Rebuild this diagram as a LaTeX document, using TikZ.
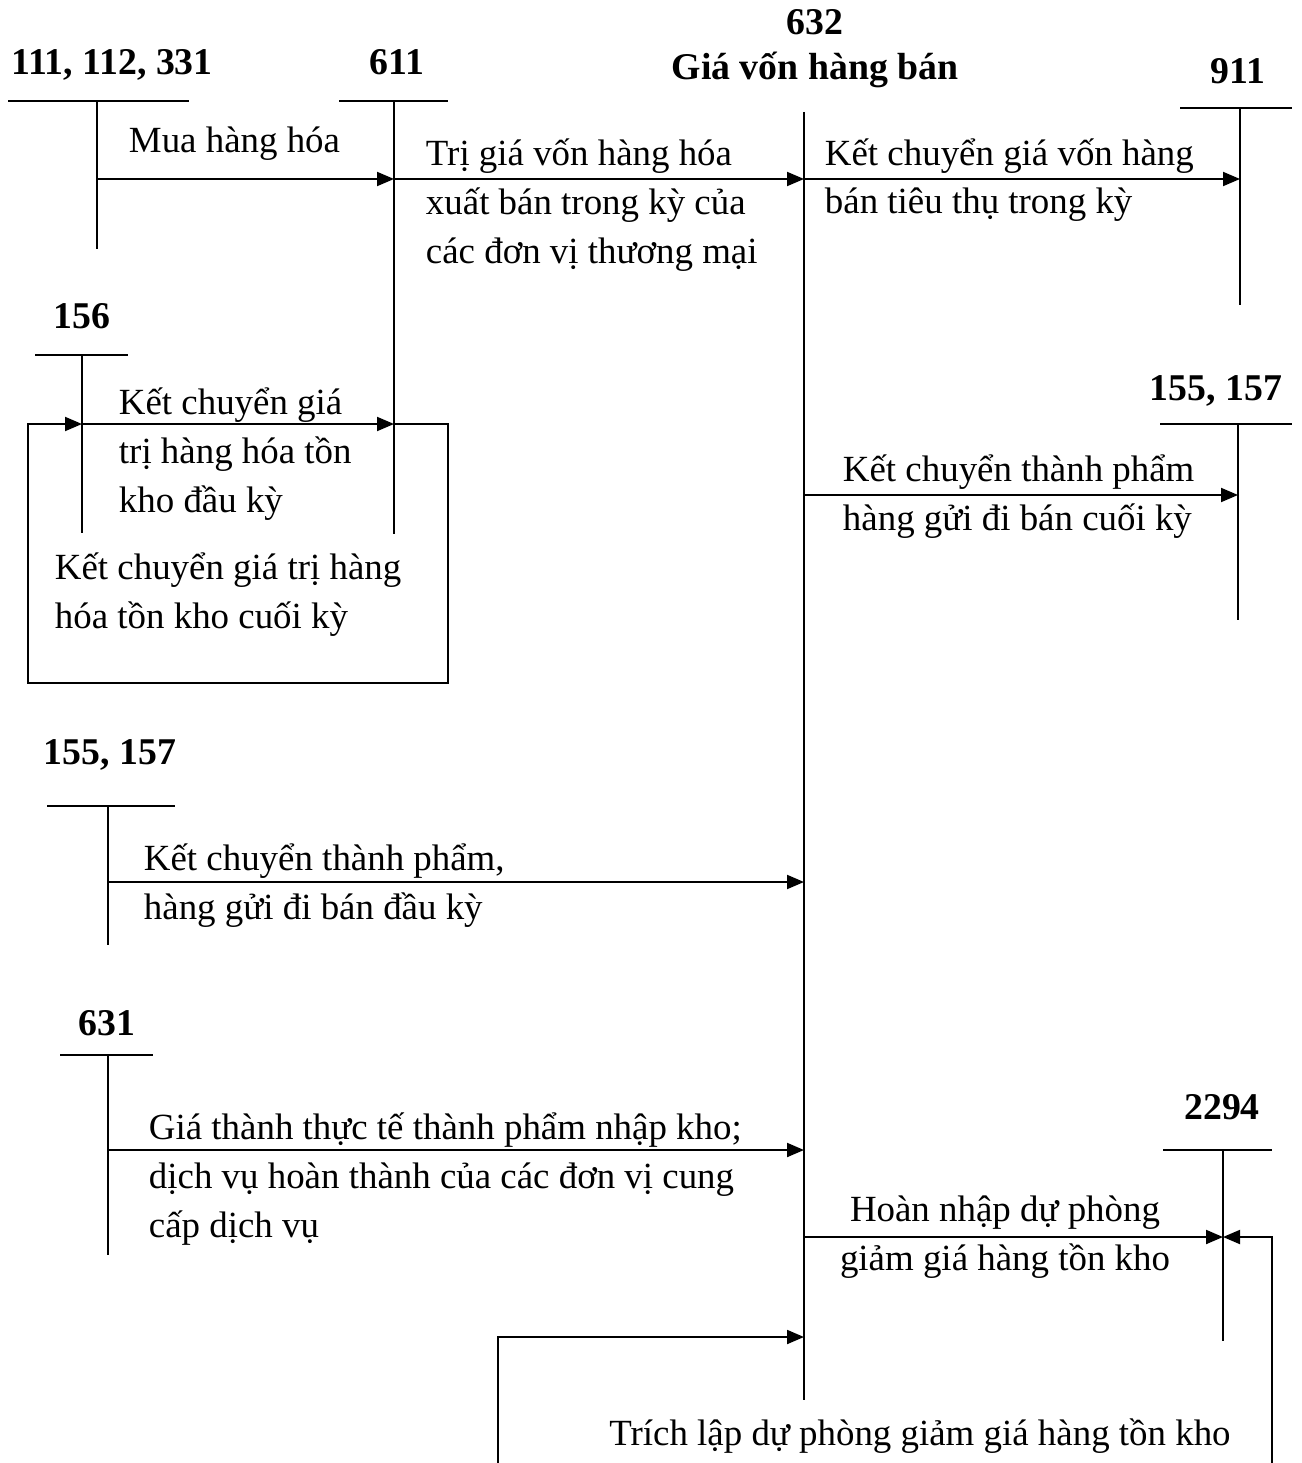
\documentclass[tikz,border=0pt]{standalone}
\usepackage{fontspec}
\setmainfont{Liberation Serif}
\usetikzlibrary{arrows.meta}

\begin{document}
\begin{tikzpicture}[
    x=0.02cm, y=-0.02cm,
    font=\fontsize{21}{27.8}\selectfont,
    >={Triangle[length=3.4mm, width=2.8mm]},
    line width=1.1pt,
    acct/.style={font=\fontsize{21.5}{27.8}\selectfont\bfseries, anchor=base, inner sep=0pt},
    note/.style={align=left, anchor=base west, inner sep=0pt},
    arrow/.style={->}
  ]
  \useasboundingbox (0,0) rectangle (1301,1463);

  % Account 111, 112, 331
  \node[acct] (l111) at (112,75) {111, 112, 331};
  \coordinate (v111) at (97,101);
  \draw (8,101) -- (189,101);
  \draw (v111) -- (97,249);

  % Account 611
  \node[acct] (l611) at (397,75) {611};
  \coordinate (v611) at (394,101);
  \draw (339,101) -- (448,101);
  \draw (v611) -- (394,534);

  % Account 632
  \node[acct] (l632) at (815,35) {632};
  \node[acct] (n632) at (815,80) {Giá vốn hàng bán};
  \coordinate (v632) at (804,112);
  \draw (v632) -- (804,1400);

  % Account 911
  \node[acct] (l911) at (1238,84) {911};
  \coordinate (v911) at (1240,108);
  \draw (1180,108) -- (1292,108);
  \draw (v911) -- (1240,305);

  % Account 156
  \node[acct] (l156) at (82,328) {156};
  \coordinate (v156) at (82,355);
  \draw (35,355) -- (128,355);
  \draw (v156) -- (82,533);

  % Account 155, 157 (right)
  \node[acct] (l155r) at (1216,400) {155, 157};
  \coordinate (v155r) at (1238,424);
  \draw (1160,424) -- (1292,424);
  \draw (v155r) -- (1238,620);

  % Account 155, 157 (left)
  \node[acct] (l155l) at (110,764) {155, 157};
  \coordinate (v155l) at (108,806);
  \draw (47,806) -- (175,806);
  \draw (v155l) -- (108,945);

  % Account 631
  \node[acct] (l631) at (107,1035) {631};
  \coordinate (v631) at (108,1055);
  \draw (60,1055) -- (153,1055);
  \draw (v631) -- (108,1255);

  % Account 2294
  \node[acct] (l2294) at (1222,1119) {2294};
  \coordinate (v2294) at (1223,1150);
  \draw (1163,1150) -- (1272,1150);
  \draw (v2294) -- (1223,1341);

  % Loop corners
  \coordinate (c1) at (448,424);
  \coordinate (c2) at (448,683);
  \coordinate (c3) at (28,683);
  \coordinate (c4) at (28,424);
  \coordinate (d1) at (1272,1463);
  \coordinate (d2) at (498,1463);

  % Arrows
  \draw[arrow] (v111 |- 0,179) -- (v611 |- 0,179);
  \draw[arrow] (v611 |- 0,179) -- (v632 |- 0,179);
  \draw[arrow] (v632 |- 0,179) -- (v911 |- 0,179);
  \draw[arrow] (v156 |- 0,424) -- (v611 |- 0,424);
  \draw[arrow] (v611 |- c1) -- (c1) -- (c2) -- (c3) -- (c4) -- (v156 |- c4);
  \draw[arrow] (v632 |- 0,495) -- (v155r |- 0,495);
  \draw[arrow] (v155l |- 0,882) -- (v632 |- 0,882);
  \draw[arrow] (v631 |- 0,1150) -- (v632 |- 0,1150);
  \draw[arrow] (v632 |- 0,1237) -- (v2294 |- 0,1237);
  \draw[arrow] (d1) -- (d1 |- 0,1237) -- (v2294 |- 0,1237);
  \draw[arrow] (d2) -- (d2 |- 0,1337) -- (v632 |- 0,1337);

  % Labels (base = last line)
  \node[note] (t1) at (128,153) {Mua hàng hóa};
  \node[note] (t2) at (425,263) {Trị giá vốn hàng hóa\\xuất bán trong kỳ của\\các đơn vị thương mại};
  \node[note] (t3) at (824,214) {Kết chuyển giá vốn hàng\\bán tiêu thụ trong kỳ};
  \node[note] (t4) at (118,512) {Kết chuyển giá\\trị hàng hóa tồn\\kho đầu kỳ};
  \node[note] (t5) at (54,628) {Kết chuyển giá trị hàng\\hóa tồn kho cuối kỳ};
  \node[note] (t6) at (842,530) {Kết chuyển thành phẩm\\hàng gửi đi bán cuối kỳ};
  \node[note] (t7) at (143,919) {Kết chuyển thành phẩm,\\hàng gửi đi bán đầu kỳ};
  \node[note] (t8) at (148,1237) {Giá thành thực tế thành phẩm nhập kho;\\dịch vụ hoàn thành của các đơn vị cung\\cấp dịch vụ};
  \node[note, align=center, anchor=base] (t9) at (1005,1270) {Hoàn nhập dự phòng\\giảm giá hàng tồn kho};
  \node[note, anchor=base] (t10) at (920,1445) {Trích lập dự phòng giảm giá hàng tồn kho};
\end{tikzpicture}
\end{document}
